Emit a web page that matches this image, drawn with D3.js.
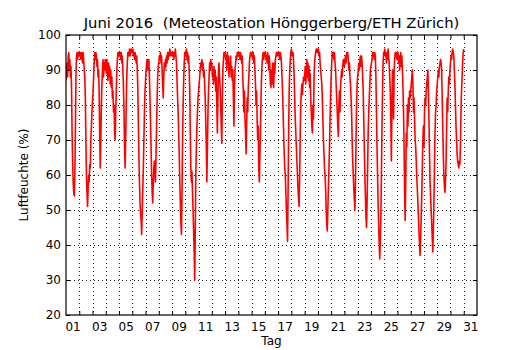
<!DOCTYPE html>
<html><head><meta charset="utf-8">
<script src="https://cdn.jsdelivr.net/npm/d3@7"></script>
<style>
body{margin:0;background:#fff;}
svg{display:block;}
text{font-family:"DejaVu Sans",sans-serif;fill:#000;}
</style>
</head><body>
<svg id="chart" width="530" height="350"></svg>
<script>
const titleText = "Juni 2016  (Meteostation Hönggerberg/ETH Zürich)";
const xLabelText = "Tag";
const yLabelText = "Luftfeuchte (%)";
const dayTickLabels = ["01","03","05","07","09","11","13","15","17","19","21","23","25","27","29","31"];
const yTickValues = [20,30,40,50,60,70,80,90,100];
// hourly relative humidity (%) starting 1 June 00:00
const humidity = [
87,90,92,88,94,95,90,93,88,91,85,72,64,58,55,54,60,72,88,94,95,93,95,94,
95,94,95,93,95,94,92,95,93,90,88,82,70,60,55,51,56,60,58,63,62,70,74,78,
81,84,88,92,95,93,95,94,91,93,88,90,84,72,62,70,80,86,90,93,88,92,90,93,
92,89,93,90,87,92,88,91,86,90,85,88,82,84,78,80,72,70,78,84,90,93,95,94,
95,94,95,93,95,92,94,90,85,78,68,62,70,80,88,92,95,94,95,96,94,95,96,95,
95,96,94,95,93,95,94,92,94,90,85,75,65,58,52,49,47,43,50,56,62,70,78,84,
87,90,92,93,90,92,93,88,82,75,68,60,55,52,58,62,64,60,58,66,74,82,88,91,
92,94,93,95,92,94,90,86,82,88,92,90,93,91,94,92,95,93,95,94,96,95,94,95,
95,94,95,93,95,94,96,94,92,87,82,78,72,66,58,52,46,43,55,70,80,87,92,95,
95,94,96,93,95,92,94,90,84,72,62,58,61,55,50,44,38,30,44,60,68,74,78,82,
84,86,88,90,92,91,93,90,92,88,90,86,82,75,68,58,68,78,84,88,92,90,93,91,
92,88,90,86,91,87,90,84,88,80,72,82,90,92,88,85,80,74,69,82,90,93,95,94,
95,93,94,90,95,92,94,88,92,90,94,88,91,87,90,82,74,85,90,92,94,93,95,94,
95,94,95,93,95,94,92,94,88,84,78,84,76,72,66,74,82,78,85,88,92,94,95,94,
94,95,93,95,92,94,90,86,80,84,76,70,74,62,58,66,72,82,88,92,94,95,93,95,
94,95,93,94,92,95,93,90,94,91,86,85,90,86,92,88,85,92,89,93,94,95,94,95,
95,94,95,93,95,94,92,88,84,78,72,66,62,60,55,50,46,41,55,72,84,90,93,95,
96,95,94,95,92,88,82,76,72,68,64,60,56,53,51,60,72,80,84,86,83,86,88,87,
88,91,86,90,93,88,92,87,91,85,89,82,78,74,72,80,76,88,92,94,95,96,95,96,
95,96,94,95,92,90,88,86,82,76,70,66,62,60,56,50,46,44,50,56,62,68,76,82,
88,92,95,94,95,93,95,92,90,86,82,78,74,71,80,84,78,85,88,90,88,91,93,92,
91,93,94,92,95,94,95,93,90,92,88,86,82,78,70,64,60,56,53,50,58,70,80,86,
88,90,92,90,93,94,91,94,92,88,84,76,68,60,54,48,45,52,62,72,78,82,86,90,
91,92,93,95,94,95,93,95,94,88,78,68,60,52,46,40,36,42,48,60,74,84,92,95,
95,96,94,95,92,95,93,96,94,92,88,84,76,64,80,90,84,76,90,93,95,94,95,93,
93,95,92,94,90,93,95,91,94,90,85,78,68,55,47,58,72,68,80,74,82,78,84,82,
84,86,88,90,86,78,82,76,70,68,64,59,56,52,48,44,40,37,42,48,54,62,70,74,
68,78,82,80,84,86,88,90,84,76,66,58,54,50,46,42,38,44,52,62,72,78,80,84,
86,88,90,88,91,92,93,92,90,82,74,66,60,57,55,58,64,73,82,78,84,88,86,90,
92,94,93,95,96,95,94,90,86,80,74,70,66,64,63,62,64,63,68,78,84,88,92,95,
96
];
const hoursPerDay = 24;
const numDays = 31;

const W = 530, H = 350;
const m = {left:66, right:53, top:35, bottom:35};
const svg = d3.select("#chart");
const x = d3.scaleLinear().domain([0, numDays]).range([m.left, W - m.right]);
const y = d3.scaleLinear().domain([20, 100]).range([H - m.bottom, m.top]);

const data = humidity.map((v, i) => ({t: i / hoursPerDay, v}));
const dayTicks = d3.range(1, numDays);
const labelPos = dayTickLabels.map(s => +s - 0.5);

// grid
const grid = svg.append("g").attr("stroke", "#222").attr("stroke-width", 1)
  .attr("stroke-dasharray", "1,3").attr("fill", "none");
grid.selectAll(".v").data(dayTicks).join("line")
  .attr("x1", d => Math.round(x(d)) + 0.5).attr("x2", d => Math.round(x(d)) + 0.5)
  .attr("y1", y(100)).attr("y2", y(20));
grid.selectAll(".h").data(yTickValues.slice(1, -1)).join("line")
  .attr("y1", d => Math.round(y(d)) + 0.5).attr("y2", d => Math.round(y(d)) + 0.5)
  .attr("x1", x(0)).attr("x2", x(numDays));

// data line
svg.append("clipPath").attr("id", "clip").append("rect")
  .attr("x", x(0)).attr("y", y(100)).attr("width", x(numDays) - x(0)).attr("height", y(20) - y(100));
svg.append("path").datum(data)
  .attr("clip-path", "url(#clip)")
  .attr("fill", "none").attr("stroke", "#ff0000").attr("stroke-width", 1.6)
  .attr("stroke-linejoin", "round")
  .attr("d", d3.line().x(d => x(d.t)).y(d => y(d.v)));

// axes
const fs = "12px";
const yAxis = svg.append("g").attr("transform", `translate(${x(0)},0)`)
  .call(d3.axisLeft(y).tickValues(yTickValues).tickFormat(d3.format("d")).tickSize(-4).tickPadding(5));
const yAxisR = svg.append("g").attr("transform", `translate(${x(numDays)},0)`)
  .call(d3.axisRight(y).tickValues(yTickValues).tickFormat("").tickSize(-4));
const xTop = svg.append("g").attr("transform", `translate(0,${y(100)})`)
  .call(d3.axisTop(x).tickValues(dayTicks).tickFormat("").tickSize(-4));
const xTicks = svg.append("g").attr("transform", `translate(0,${y(20)})`)
  .call(d3.axisBottom(x).tickValues(dayTicks).tickFormat("").tickSize(-4));
const xLabels = svg.append("g").attr("transform", `translate(0,${y(20)})`)
  .call(d3.axisBottom(x).tickValues(labelPos).tickFormat((d, i) => dayTickLabels[i]).tickSize(0).tickPadding(7));
[yAxis, yAxisR, xTop, xTicks, xLabels].forEach(g => {
  g.select(".domain").remove();
  g.selectAll("text").attr("font-size", fs).attr("font-family", "DejaVu Sans").attr("fill", "#000");
  g.selectAll("line").attr("stroke", "#000");
});

// frame
svg.append("rect").attr("x", x(0)).attr("y", y(100))
  .attr("width", x(numDays) - x(0)).attr("height", y(20) - y(100))
  .attr("fill", "none").attr("stroke", "#000").attr("stroke-width", 1.2);

// labels
svg.append("text").attr("x", (x(0) + x(numDays)) / 2).attr("y", 28)
  .attr("text-anchor", "middle").attr("font-size", "14.8px")
  .style("white-space", "pre").attr("xml:space", "preserve").text(titleText);
svg.append("text").attr("x", (x(0) + x(numDays)) / 2).attr("y", 345)
  .attr("text-anchor", "middle").attr("font-size", fs).text(xLabelText);
svg.append("text").attr("transform", `translate(28,${(y(20) + y(100)) / 2}) rotate(-90)`)
  .attr("text-anchor", "middle").attr("font-size", fs).text(yLabelText);
</script>
</body></html>
